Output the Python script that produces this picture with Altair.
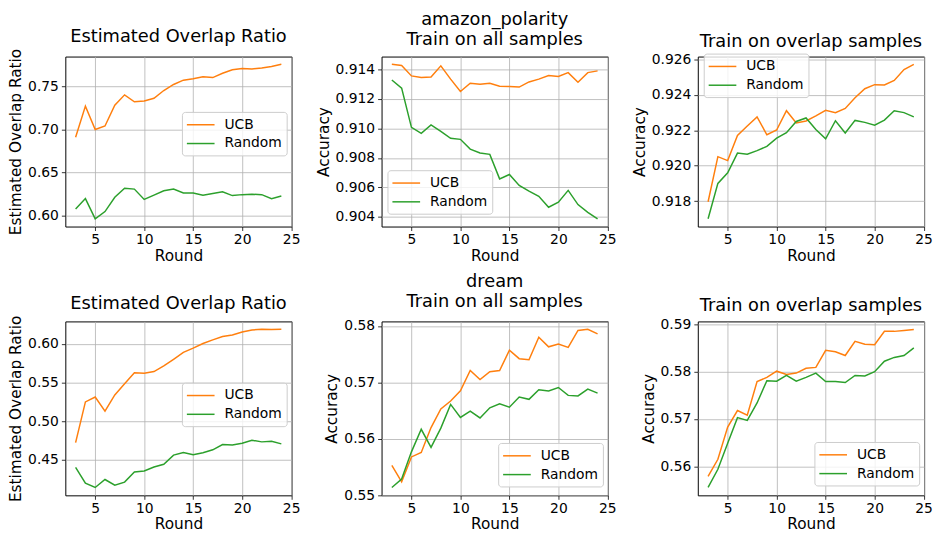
import altair as alt
import pandas as pd

rounds = list(range(3, 25))
methods = ["UCB", "Random"]
colors = ["#ff7f0e", "#2ca02c"]

# amazon_polarity
amz_ratio_ucb = [0.691, 0.727, 0.700, 0.704, 0.728, 0.740, 0.732, 0.733, 0.736, 0.745, 0.752,
                 0.757, 0.7586, 0.761, 0.760, 0.765, 0.769, 0.7705, 0.770, 0.771, 0.7727, 0.7754]
amz_ratio_rnd = [0.608, 0.620, 0.5966, 0.605, 0.6216, 0.632, 0.631, 0.619, 0.624, 0.629, 0.631,
                 0.6265, 0.6265, 0.624, 0.626, 0.628, 0.6235, 0.6246, 0.625, 0.6246, 0.620, 0.623]
amz_all_ucb = [0.91435, 0.91426, 0.91356, 0.91345, 0.91348, 0.91424, 0.91334, 0.91250, 0.91306,
               0.91300, 0.91306, 0.91286, 0.91284, 0.91280, 0.91315, 0.91334, 0.91358, 0.91352,
               0.91378, 0.91313, 0.91378, 0.91390]
amz_all_rnd = [0.91328, 0.91273, 0.91007, 0.90967, 0.91024, 0.90980, 0.90933, 0.90926, 0.90860,
               0.90833, 0.90824, 0.90658, 0.90688, 0.90614, 0.90575, 0.90540, 0.90466, 0.90500,
               0.90580, 0.90484, 0.90431, 0.90387]
amz_ovl_ucb = [0.91796, 0.92051, 0.92029, 0.92171, 0.92224, 0.92276, 0.92175, 0.92202, 0.92311,
               0.92242, 0.92253, 0.92282, 0.92313, 0.92300, 0.92324, 0.92384, 0.92435, 0.92458,
               0.92456, 0.92482, 0.92544, 0.92573]
amz_ovl_rnd = [0.91700, 0.91900, 0.91960, 0.92071, 0.92065, 0.92085, 0.92109, 0.92156, 0.92187,
               0.92250, 0.92270, 0.92205, 0.92152, 0.92254, 0.92185, 0.92256, 0.92245, 0.92229,
               0.92258, 0.92311, 0.92300, 0.92276]

# dream
drm_ratio_ucb = [0.4722, 0.5248, 0.5312, 0.5128, 0.5338, 0.5483, 0.5624, 0.5620, 0.5641, 0.5714,
                 0.5800, 0.5889, 0.5944, 0.6004, 0.6051, 0.6094, 0.6115, 0.6154, 0.6180, 0.6188,
                 0.6184, 0.6188]
drm_ratio_rnd = [0.4402, 0.4197, 0.4141, 0.4244, 0.4171, 0.4210, 0.4342, 0.4355, 0.4406, 0.4441,
                 0.4560, 0.4594, 0.4564, 0.4590, 0.4628, 0.4697, 0.4692, 0.4714, 0.4752, 0.4731,
                 0.4740, 0.4705]
drm_all_ucb = [0.5553, 0.5524, 0.5568, 0.5576, 0.5620, 0.5653, 0.5667, 0.5685, 0.5721, 0.5705,
               0.5719, 0.5721, 0.5757, 0.5742, 0.5740, 0.5780, 0.5763, 0.5768, 0.5762, 0.5792,
               0.5794, 0.5786]
drm_all_rnd = [0.5514, 0.5529, 0.5577, 0.5617, 0.5585, 0.5619, 0.5661, 0.5638, 0.5649, 0.5637,
               0.5655, 0.5662, 0.5656, 0.5674, 0.5670, 0.5687, 0.5685, 0.5691, 0.5677, 0.5676,
               0.5688, 0.5681]
drm_ovl_ucb = [0.5579, 0.5615, 0.5683, 0.5718, 0.5708, 0.5779, 0.5788, 0.5801, 0.5794, 0.5797,
               0.5807, 0.5809, 0.5845, 0.5842, 0.5834, 0.5864, 0.5858, 0.5857, 0.5885, 0.5885,
               0.5887, 0.5889]
drm_ovl_rnd = [0.5556, 0.5594, 0.5649, 0.5703, 0.5697, 0.5734, 0.5781, 0.5780, 0.5792, 0.5780,
               0.5788, 0.5797, 0.5779, 0.5779, 0.5777, 0.5792, 0.5791, 0.5800, 0.5822, 0.5830,
               0.5834, 0.5850]

x_ticks = [5, 10, 15, 20, 25]
FONT = "DejaVu Sans"


def panel(title, ylabel, ucb, rnd, ydomain, yticks, yfmt, lx, ly, h):
    df = pd.DataFrame({
        "Round": rounds + rounds,
        "value": ucb + rnd,
        "Method": ["UCB"] * len(rounds) + ["Random"] * len(rounds),
    })
    multi = isinstance(title, list)
    return alt.Chart(df).mark_line(strokeWidth=1.5, clip=True).encode(
        x=alt.X("Round:Q",
                scale=alt.Scale(domain=[1.95, 25.05], nice=False, zero=False),
                axis=alt.Axis(values=x_ticks, format="d", title="Round")),
        y=alt.Y("value:Q",
                scale=alt.Scale(domain=ydomain, nice=False, zero=False),
                axis=alt.Axis(values=yticks, format=yfmt, title=ylabel)),
        color=alt.Color("Method:N",
                        scale=alt.Scale(domain=methods, range=colors),
                        sort=methods,
                        legend=alt.Legend(
                            title=None, orient="none", legendX=lx, legendY=ly,
                            symbolType="M-1.143,0L2.857,0", symbolSize=196,
                            symbolStrokeWidth=1.5, labelOffset=22,
                            labelFontSize=14, labelFont=FONT, labelColor="black",
                            padding=5, rowPadding=4,
                            fillColor="rgba(255,255,255,0.8)", strokeColor="#cccccc",
                            cornerRadius=3)),
    ).properties(width=229, height=h,
                 title=alt.TitleParams(title, offset=8 if multi else 2))


p1 = panel("Estimated Overlap Ratio", "Estimated Overlap Ratio", amz_ratio_ucb, amz_ratio_rnd,
           [0.5877, 0.7843], [0.60, 0.65, 0.70, 0.75], ".2f", 118, 56, 172)
p2 = panel(["amazon_polarity", "Train on all samples"], "Accuracy", amz_all_ucb, amz_all_rnd,
           [0.90335, 0.91487], [0.904, 0.906, 0.908, 0.910, 0.912, 0.914], ".3f", 6, 115, 172)
p3 = panel("Train on overlap samples", "Accuracy", amz_ovl_ucb, amz_ovl_rnd,
           [0.91656, 0.92617], [0.918, 0.920, 0.922, 0.924, 0.926], ".3f", 6, -3, 172)
p4 = panel("Estimated Overlap Ratio", "Estimated Overlap Ratio", drm_ratio_ucb, drm_ratio_rnd,
           [0.4039, 0.6290], [0.45, 0.50, 0.55, 0.60], ".2f", 118, 62, 176)
p5 = panel(["dream", "Train on all samples"], "Accuracy", drm_all_ucb, drm_all_rnd,
           [0.5500, 0.5808], [0.55, 0.56, 0.57, 0.58], ".2f", 118, 123, 176)
p6 = panel("Train on overlap samples", "Accuracy", drm_ovl_ucb, drm_ovl_rnd,
           [0.5539, 0.5906], [0.56, 0.57, 0.58, 0.59], ".2f", 118, 122, 176)

chart = alt.concat(p1, p2, p3, p4, p5, p6, columns=3,
                   spacing={"row": 96, "column": 91}, bounds="flush").resolve_legend(
    color="independent"
).properties(
    padding={"left": 0, "top": -1, "right": 0, "bottom": 0},
    background="white",
).configure_view(
    stroke="black", strokeWidth=1
).configure_axis(
    domain=False,
    grid=True, gridColor="#b0b0b0", gridWidth=0.8, gridOpacity=1,
    ticks=True, tickColor="black", tickWidth=0.8, tickSize=4,
    labelFont=FONT, labelFontSize=14, labelColor="black", labelPadding=3,
    titleFont=FONT, titleFontSize=15.5, titleFontWeight="normal", titleColor="black",
    titlePadding=5,
).configure_axisY(titlePadding=4).configure_axisX(
    labelFlush=False, labelPadding=2, titlePadding=2
).configure_title(
    font=FONT, fontSize=18, fontWeight="normal", color="black", anchor="middle",
    baseline="alphabetic", lineHeight=20,
)

chart.save("out.html", embed_options={"renderer": "svg", "actions": False})
